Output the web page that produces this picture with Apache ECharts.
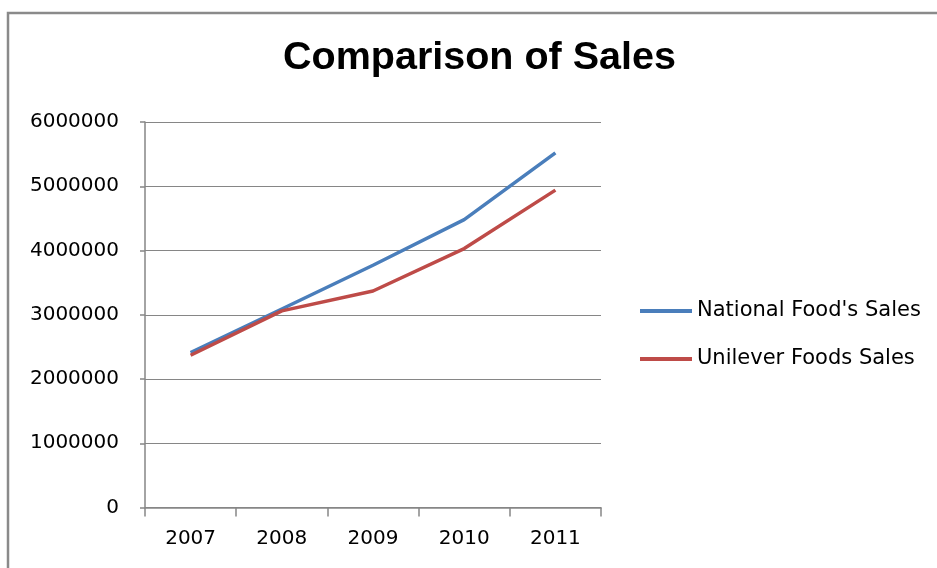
<!DOCTYPE html>
<html>
<head>
<meta charset="utf-8">
<script src="https://cdn.jsdelivr.net/npm/echarts@6/dist/echarts.min.js"></script>
<style>
  html, body { margin: 0; padding: 0; background: #fff; }
  #main { width: 937px; height: 568px; }
</style>
</head>
<body>
<div id="main"></div>
<script>
// values
var years = ['2007', '2008', '2009', '2010', '2011'];
var nationalSales = [2410000, 3090000, 3770000, 4480000, 5520000];
var unileverSales = [2370000, 3060000, 3370000, 4030000, 4940000];
var seriesNames = ["National Food's Sales", 'Unilever Foods Sales'];

var axisGray = '#868686';
var labelFont = 'DejaVu Sans';

var myChart = echarts.init(document.getElementById('main'));
myChart.setOption({
  animation: false,
  backgroundColor: '#fff',
  graphic: [{
    type: 'rect',
    shape: { x: 8, y: 13, width: 1200, height: 1000 },
    style: { fill: 'none', stroke: '#8a8a8a', lineWidth: 2.5 },
    silent: true
  }],
  title: {
    text: 'Comparison of Sales',
    left: 479.5,
    textAlign: 'center',
    top: 38,
    padding: 0,
    textStyle: {
      fontFamily: 'Liberation Sans',
      fontWeight: 'bold',
      fontSize: 39.5,
      color: '#000'
    }
  },
  legend: {
    orient: 'vertical',
    left: 640,
    top: 300,
    padding: 0,
    itemGap: 26,
    itemWidth: 52,
    itemHeight: 4,
    icon: 'rect',
    textStyle: { fontFamily: labelFont, fontSize: 21, color: '#000', lineHeight: 22 },
    data: seriesNames
  },
  grid: { left: 145, right: 336, top: 122, bottom: 60.5 },
  xAxis: {
    type: 'category',
    data: years,
    boundaryGap: true,
    axisLine: { lineStyle: { color: axisGray, width: 1.5 } },
    axisTick: { show: true, length: 9, lineStyle: { color: axisGray, width: 1.5 } },
    axisLabel: { margin: 21, fontFamily: labelFont, fontSize: 20, color: '#000' }
  },
  yAxis: {
    type: 'value',
    min: 0,
    max: 6000000,
    interval: 1000000,
    axisLine: { show: true, lineStyle: { color: axisGray, width: 1.5 } },
    axisTick: { show: true, length: 5, lineStyle: { color: axisGray, width: 1.5 } },
    axisLabel: {
      margin: 26,
      fontFamily: labelFont,
      fontSize: 20,
      color: '#000',
      formatter: function (v) { return String(v); }
    },
    splitLine: { show: true, lineStyle: { color: axisGray, width: 1.2 } }
  },
  series: [{
    name: seriesNames[0],
    type: 'line',
    data: nationalSales,
    showSymbol: false,
    symbol: 'none',
    color: '#4a7ebb',
    lineStyle: { width: 3.5, color: '#4a7ebb' }
  }, {
    name: seriesNames[1],
    type: 'line',
    data: unileverSales,
    showSymbol: false,
    symbol: 'none',
    color: '#be4b48',
    lineStyle: { width: 3.5, color: '#be4b48' }
  }]
});
</script>
</body>
</html>
